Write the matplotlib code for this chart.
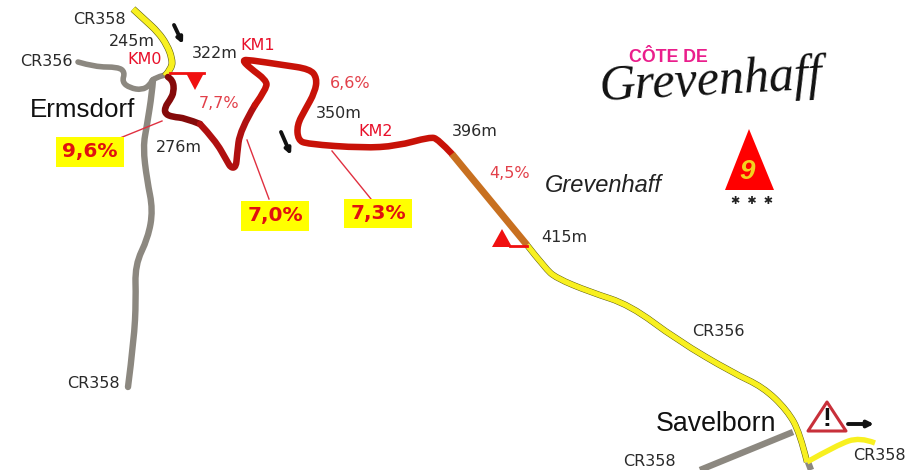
import matplotlib
matplotlib.use('Agg')
import matplotlib.pyplot as plt
from matplotlib.path import Path
from matplotlib.patches import PathPatch, Polygon, Rectangle

# road traces, in picture pixels
road_top = [(133,9),(145,20),(158,32),(167,45),(172,58),(172,68),(165,76)]
road_cr356 = [(78,62),(95,67),(118,67),(125,72),(122,82),(130,88),(142,90),(150,85),(153,78),(165,75)]
road_cr358 = [(153,80),(152,93),(147,125),(143,147),(147,180),(153,210),(148,238),(135,265),(136,300),(134,340),(128,387)]
climb_dark = [(168,77),(173,80),(174,92),(170,100),(165,107),(165,114),(173,117),(185,118),(200,124)]
climb_mid = [(200,124),(215,140),(227,161),(231,168),(236,167),(237,155),(240,130),(255,105)]
climb_red = [(255,105),(267,88),(266,80),(250,68),(242,60),(250,60),(283,65),(310,69),(317,78),(315,92),(305,110),
             (297,125),(298,140),(307,144),(363,148),(397,146),(430,137),(438,139),(452,154)]
climb_orange = [(452,154),(527,245)]
road_bottom = [(527,245),(545,268),(556,278),(590,292),(630,305),(677,340),(733,373),(763,387),(787,410),(800,433),(807,462)]
road_branch = [(807,462),(837,445),(860,437),(875,443)]
road_savel = [(793,432),(700,470)]
road_stub = [(808,462),(811,470)]

black_labels = [('CR358',73,19),('245m',109,41),('CR356',20,62),('322m',192,53),('276m',156,148),('350m',316,114),
                ('396m',452,132),('415m',541,237),('CR356',692,332),('CR358',623,462),('CR358',853,456),('CR358',67,384)]
red_labels = [('KM0',127,59),('KM1',240,46),('KM2',358,132)]
grade_labels = [('7,7%',199,103),('6,6%',330,83),('4,5%',489,174)]
badges = [('9,6%',56,137,68,30),('7,0%',241,201,68,30),('7,3%',344,199,68,29)]
leaders = [[(120,138),(162,121)],[(247,140),(269,199)],[(332,151),(371,199)]]
arrows = [[(174,25),(183,44)],[(281,132),(291,155)]]

def smooth(pts):
    # quadratic curves through segment midpoints
    if len(pts) == 2:
        return Path(pts)
    verts = [pts[0]]
    codes = [Path.MOVETO]
    for i in range(1, len(pts)-1):
        if i < len(pts)-2:
            end = ((pts[i][0]+pts[i+1][0])/2, (pts[i][1]+pts[i+1][1])/2)
        else:
            end = pts[-1]
        verts += [pts[i], end]
        codes += [Path.CURVE3, Path.CURVE3]
    return Path(verts, codes)

def road(pts, color, lw, z=2, cap='round'):
    ax.add_patch(PathPatch(smooth(pts), fc='none', ec=color, lw=lw, capstyle=cap, joinstyle='round', zorder=z))

fig = plt.figure(figsize=(9.19,4.70), dpi=100)
ax = fig.add_axes([0,0,1,1])
ax.set_xlim(0,919)
ax.set_ylim(470,0)
ax.axis('off')

grey = '#8c8880'
road(road_cr356, grey, 4.0)
road(road_cr358, grey, 4.6)
road(road_savel, grey, 4.6, cap='butt')
road(road_stub, grey, 4.6, cap='butt')

road(road_top, '#5a5a10', 5.0, z=3, cap='butt')
road(road_top, '#f8f020', 4.2, z=3, cap='butt')
road(road_bottom, '#5a5a10', 4.6, z=3, cap='butt')
road(road_bottom, '#f8f020', 3.9, z=3, cap='butt')
road(road_branch, '#f8f020', 3.9, z=3, cap='butt')

road(climb_dark, '#850a0a', 4.7, z=4)
road(climb_mid, '#b01010', 4.7, z=4)
road(climb_red, '#c81208', 4.7, z=4)
road(climb_orange, '#c87020', 5.0, z=4, cap='butt')

for t, x, y in black_labels:
    ax.text(x, y, t, fontsize=11.5, color='#2a2a2a', va='center', ha='left', family='DejaVu Sans')
for t, x, y in red_labels:
    ax.text(x, y, t, fontsize=11.5, color='#e8102a', va='center', ha='left', family='DejaVu Sans')
for t, x, y in grade_labels:
    ax.text(x, y, t, fontsize=11.5, color='#e2404a', va='center', ha='left', family='DejaVu Sans')

for (a, b) in leaders:
    ax.plot([a[0],b[0]], [a[1],b[1]], color='#e03040', lw=1)
for t, x, y, w, h in badges:
    ax.add_patch(Rectangle((x,y), w, h, fc='#ffff00', ec='none', zorder=5))
    ax.text(x+w/2, y+h/2, t, fontsize=14.5, fontweight='bold', color='#e01010', ha='center', va='center', zorder=6, family='DejaVu Sans')

for (a, b) in arrows:
    ax.annotate('', xy=b, xytext=a, arrowprops=dict(arrowstyle='-|>', color='#111111', lw=2.8, mutation_scale=8, shrinkA=0, shrinkB=0))
ax.annotate('', xy=(874,424), xytext=(848,424), arrowprops=dict(arrowstyle='-|>', color='#111111', lw=2.8, mutation_scale=9, shrinkA=0, shrinkB=0))

# start and finish flags
ax.plot([170,204],[73,73], color='#f01010', lw=2, zorder=5)
ax.add_patch(Polygon([(186,73),(204,73),(195,90)], fc='#f01010', ec='none', zorder=5))
ax.plot([510,527],[246,246], color='#f01010', lw=2, zorder=5)
ax.add_patch(Polygon([(492,247),(512,247),(502,229)], fc='#f01010', ec='none', zorder=5))

ax.text(30, 110, 'Ermsdorf', fontsize=18.7, color='#111111', va='center', family='Liberation Sans')
ax.text(656, 424, 'Savelborn', fontsize=19.3, color='#111111', va='center', family='Liberation Sans')
ax.text(545, 186, 'Grevenhaff', fontsize=17, style='italic', color='#222222', va='center', family='Liberation Sans')

ax.text(629, 57, 'CÔTE DE', fontsize=12.8, fontweight='bold', color='#ea1e8c', va='center', family='Liberation Sans', zorder=6)
ax.text(598, 82, 'Grevenhaff', fontsize=36, style='italic', color='#111111', va='center', family='Liberation Serif', rotation=3)

# category triangle
ax.add_patch(Polygon([(725,190),(774,190),(749,129)], fc='#ff0000', ec='none'))
ax.text(747, 172, '9', fontsize=20, style='italic', fontweight='bold', color='#f2d21e', ha='center', va='center', family='Liberation Sans')
ax.text(752, 201, '✱  ✱  ✱', fontsize=8, color='#222222', ha='center', va='center', family='DejaVu Sans')

# warning sign
ax.add_patch(Polygon([(808,431),(846,431),(827,402)], fc='white', ec='#c8303a', lw=2.2, joinstyle='round'))
ax.text(827, 419, '!', fontsize=19, fontweight='bold', color='#111111', ha='center', va='center', family='Liberation Sans')

fig.savefig('out.png', dpi=100)
